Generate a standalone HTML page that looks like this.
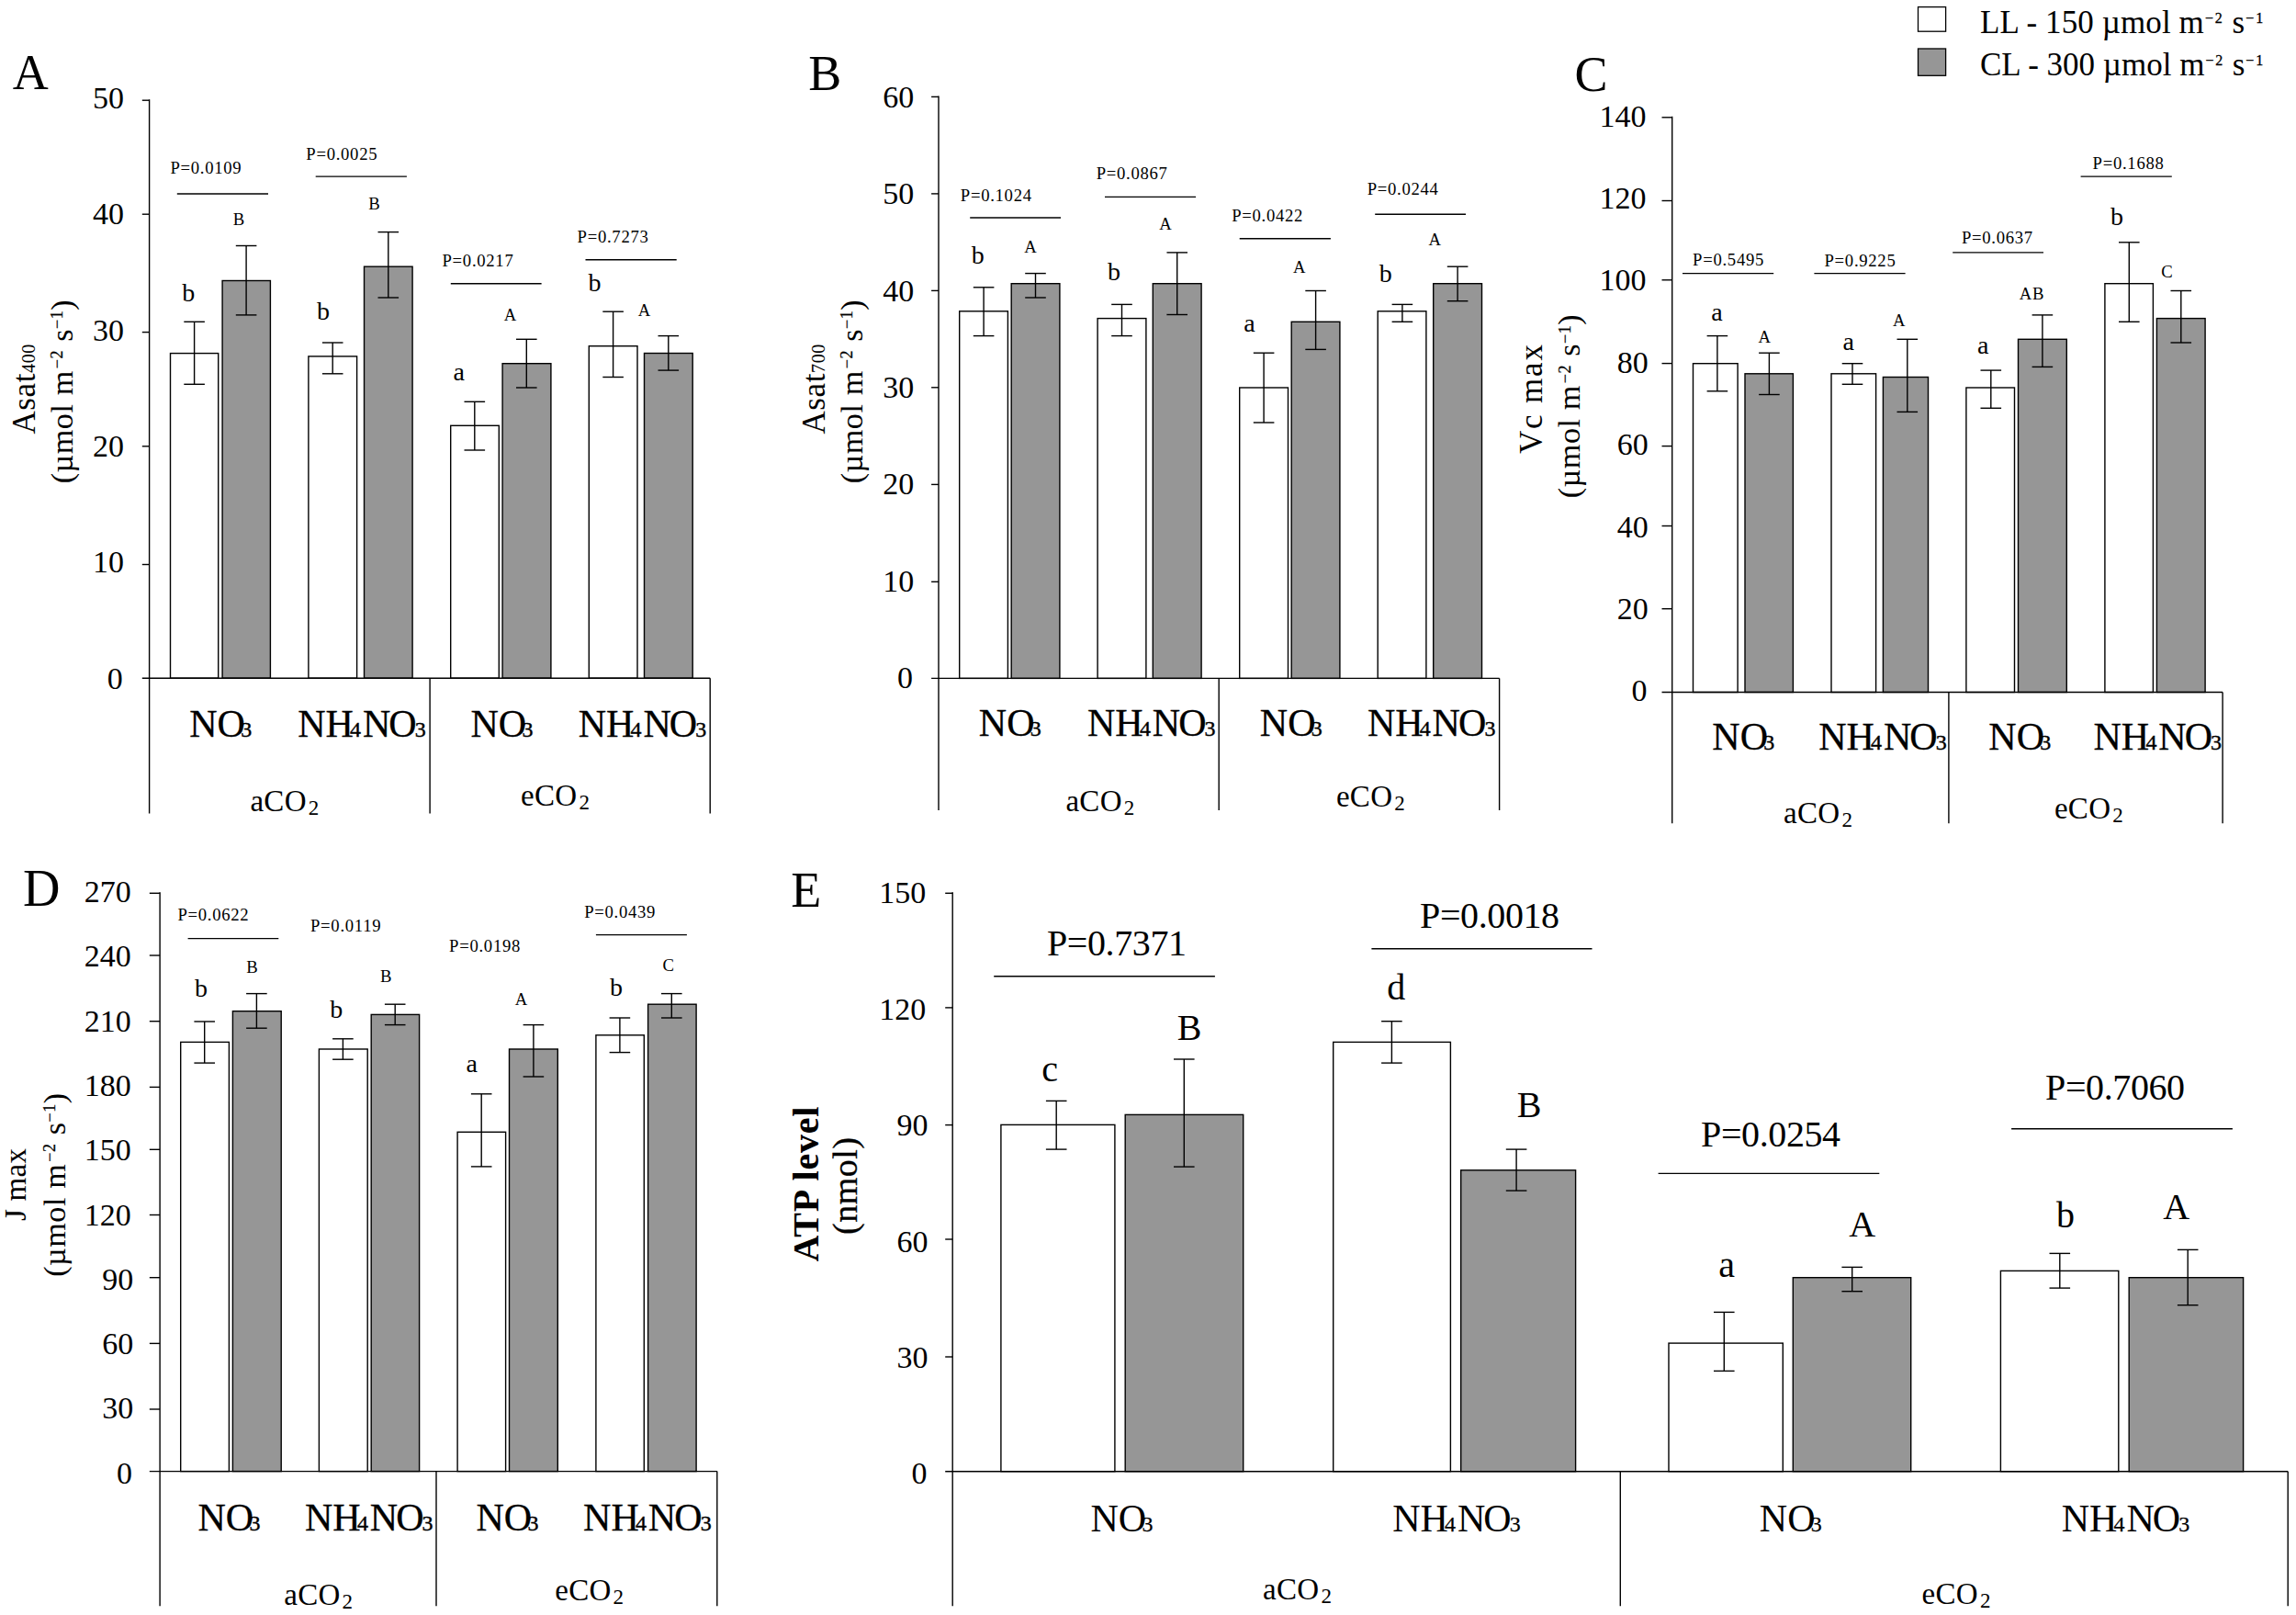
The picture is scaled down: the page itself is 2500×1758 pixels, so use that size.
<!DOCTYPE html>
<html lang="en">
<head>
<meta charset="utf-8">
<title>Figure: gas exchange and ATP level under LL and CL</title>
<style>
html,body{margin:0;padding:0;background:#fff;width:2500px;height:1758px;overflow:hidden;}
svg{display:block;}
text{font-family:"Liberation Serif", "Times New Roman", serif;fill:#000;}
</style>
</head>
<body>
<svg width="2500" height="1758" viewBox="0 0 2500 1758">
<rect x="0" y="0" width="2500" height="1758" fill="#fff"/>
<rect x="185.5" y="384.6" width="52.2" height="353.6" fill="#fff" stroke="#000" stroke-width="1.4"/>
<rect x="242.1" y="305.5" width="52.3" height="432.7" fill="#969696" stroke="#000" stroke-width="1.4"/>
<rect x="335.9" y="387.9" width="52.7" height="350.3" fill="#fff" stroke="#000" stroke-width="1.4"/>
<rect x="396.5" y="290.2" width="52.6" height="448" fill="#969696" stroke="#000" stroke-width="1.4"/>
<rect x="490.7" y="463.3" width="52.6" height="274.9" fill="#fff" stroke="#000" stroke-width="1.4"/>
<rect x="547.1" y="395.7" width="52.8" height="342.5" fill="#969696" stroke="#000" stroke-width="1.4"/>
<rect x="641.3" y="376.7" width="52.7" height="361.5" fill="#fff" stroke="#000" stroke-width="1.4"/>
<rect x="701.5" y="384.5" width="52.7" height="353.7" fill="#969696" stroke="#000" stroke-width="1.4"/>
<line x1="211.6" y1="350.3" x2="211.6" y2="418.3" stroke="#000" stroke-width="1.4"/>
<line x1="200.3" y1="350.3" x2="222.9" y2="350.3" stroke="#000" stroke-width="1.4"/>
<line x1="200.3" y1="418.3" x2="222.9" y2="418.3" stroke="#000" stroke-width="1.4"/>
<line x1="268.1" y1="267.5" x2="268.1" y2="342.9" stroke="#000" stroke-width="1.4"/>
<line x1="256.8" y1="267.5" x2="279.4" y2="267.5" stroke="#000" stroke-width="1.4"/>
<line x1="256.8" y1="342.9" x2="279.4" y2="342.9" stroke="#000" stroke-width="1.4"/>
<line x1="362.2" y1="373" x2="362.2" y2="406.8" stroke="#000" stroke-width="1.4"/>
<line x1="350.9" y1="373" x2="373.5" y2="373" stroke="#000" stroke-width="1.4"/>
<line x1="350.9" y1="406.8" x2="373.5" y2="406.8" stroke="#000" stroke-width="1.4"/>
<line x1="422.8" y1="252.6" x2="422.8" y2="324" stroke="#000" stroke-width="1.4"/>
<line x1="411.5" y1="252.6" x2="434.1" y2="252.6" stroke="#000" stroke-width="1.4"/>
<line x1="411.5" y1="324" x2="434.1" y2="324" stroke="#000" stroke-width="1.4"/>
<line x1="516.8" y1="437.3" x2="516.8" y2="490" stroke="#000" stroke-width="1.4"/>
<line x1="505.5" y1="437.3" x2="528.1" y2="437.3" stroke="#000" stroke-width="1.4"/>
<line x1="505.5" y1="490" x2="528.1" y2="490" stroke="#000" stroke-width="1.4"/>
<line x1="573.3" y1="369.3" x2="573.3" y2="422" stroke="#000" stroke-width="1.4"/>
<line x1="562" y1="369.3" x2="584.6" y2="369.3" stroke="#000" stroke-width="1.4"/>
<line x1="562" y1="422" x2="584.6" y2="422" stroke="#000" stroke-width="1.4"/>
<line x1="667.6" y1="339.2" x2="667.6" y2="410.5" stroke="#000" stroke-width="1.4"/>
<line x1="656.3" y1="339.2" x2="678.9" y2="339.2" stroke="#000" stroke-width="1.4"/>
<line x1="656.3" y1="410.5" x2="678.9" y2="410.5" stroke="#000" stroke-width="1.4"/>
<line x1="727.8" y1="365.6" x2="727.8" y2="403.1" stroke="#000" stroke-width="1.4"/>
<line x1="716.5" y1="365.6" x2="739.1" y2="365.6" stroke="#000" stroke-width="1.4"/>
<line x1="716.5" y1="403.1" x2="739.1" y2="403.1" stroke="#000" stroke-width="1.4"/>
<line x1="162.6" y1="108.2" x2="162.6" y2="885.6" stroke="#000" stroke-width="1.4"/>
<line x1="154.8" y1="738.2" x2="773.2" y2="738.2" stroke="#000" stroke-width="1.4"/>
<line x1="468.1" y1="738.2" x2="468.1" y2="885.6" stroke="#000" stroke-width="1.4"/>
<line x1="773.2" y1="738.2" x2="773.2" y2="885.6" stroke="#000" stroke-width="1.4"/>
<text x="133.8" y="749.9" font-size="34" text-anchor="end">0</text>
<line x1="154.8" y1="614.5" x2="162.6" y2="614.5" stroke="#000" stroke-width="1.4"/>
<text x="135" y="623.4" font-size="34" text-anchor="end">10</text>
<line x1="154.8" y1="485.8" x2="162.6" y2="485.8" stroke="#000" stroke-width="1.4"/>
<text x="135" y="497" font-size="34" text-anchor="end">20</text>
<line x1="154.8" y1="361.6" x2="162.6" y2="361.6" stroke="#000" stroke-width="1.4"/>
<text x="135" y="370.5" font-size="34" text-anchor="end">30</text>
<line x1="154.8" y1="233.2" x2="162.6" y2="233.2" stroke="#000" stroke-width="1.4"/>
<text x="135" y="244.1" font-size="34" text-anchor="end">40</text>
<line x1="154.8" y1="109.2" x2="162.6" y2="109.2" stroke="#000" stroke-width="1.4"/>
<text x="135" y="117.7" font-size="34" text-anchor="end">50</text>
<line x1="192.8" y1="211" x2="292" y2="211" stroke="#000" stroke-width="1.4"/>
<line x1="343.7" y1="192.1" x2="442.9" y2="192.1" stroke="#000" stroke-width="1.4"/>
<line x1="490.8" y1="308.7" x2="589.6" y2="308.7" stroke="#000" stroke-width="1.4"/>
<line x1="637.5" y1="282.7" x2="736.7" y2="282.7" stroke="#000" stroke-width="1.4"/>
<text x="185.4" y="188.7" font-size="18.7" letter-spacing="0.7">P=0.0109</text>
<text x="333.3" y="173.5" font-size="18.7" letter-spacing="0.7">P=0.0025</text>
<text x="481.5" y="290.2" font-size="18.7" letter-spacing="0.7">P=0.0217</text>
<text x="628.6" y="263.8" font-size="18.7" letter-spacing="0.7">P=0.7273</text>
<text x="205.3" y="327.7" font-size="28" text-anchor="middle">b</text>
<text x="259.9" y="244.5" font-size="18.7" text-anchor="middle">B</text>
<text x="352" y="348.1" font-size="28" text-anchor="middle">b</text>
<text x="407.4" y="228.1" font-size="18.7" text-anchor="middle">B</text>
<text x="499.7" y="414.3" font-size="28" text-anchor="middle">a</text>
<text x="555.6" y="348.9" font-size="18.7" text-anchor="middle">A</text>
<text x="647.4" y="316.9" font-size="28" text-anchor="middle">b</text>
<text x="701.6" y="344" font-size="18.7" text-anchor="middle">A</text>
<text x="240.2" y="802" font-size="42" text-anchor="middle" stroke="#000" stroke-width="0.3">NO<tspan font-size="24" stroke="#000" stroke-width="0.4" dx="-4.7">3</tspan></text>
<text x="394" y="802" font-size="42" text-anchor="middle" stroke="#000" stroke-width="0.3">NH<tspan font-size="24" stroke="#000" stroke-width="0.4" dx="-3.8">4</tspan><tspan dx="1.8">N</tspan><tspan dx="-1.9">O</tspan><tspan font-size="24" stroke="#000" stroke-width="0.4" dx="-1.9">3</tspan></text>
<text x="546.5" y="802" font-size="42" text-anchor="middle" stroke="#000" stroke-width="0.3">NO<tspan font-size="24" stroke="#000" stroke-width="0.4" dx="-4.7">3</tspan></text>
<text x="699.5" y="802" font-size="42" text-anchor="middle" stroke="#000" stroke-width="0.3">NH<tspan font-size="24" stroke="#000" stroke-width="0.4" dx="-3.8">4</tspan><tspan dx="1.8">N</tspan><tspan dx="-1.9">O</tspan><tspan font-size="24" stroke="#000" stroke-width="0.4" dx="-1.9">3</tspan></text>
<text x="310" y="882.6" font-size="33" text-anchor="middle" letter-spacing="0.3">aCO<tspan font-size="23" dx="2" dy="4">2</tspan></text>
<text x="604.6" y="877" font-size="33" text-anchor="middle" letter-spacing="0.3">eCO<tspan font-size="23" dx="2" dy="4">2</tspan></text>
<text x="13.8" y="97.2" font-size="54">A</text>
<text x="38.3" y="472.5" font-size="35" letter-spacing="0.6" transform="rotate(-90 38.3 472.5)">Asat<tspan font-size="20" dy="0">400</tspan></text>
<text x="79" y="526.3" font-size="34" transform="rotate(-90 79 526.3)" textLength="200" lengthAdjust="spacing">(µmol m<tspan font-size="18" dy="-10.8" dx="2" stroke="#000" stroke-width="0.25">−2</tspan><tspan dy="10.8"> s</tspan><tspan font-size="18" dy="-10.8" stroke="#000" stroke-width="0.25">−1</tspan><tspan dy="10.8">)</tspan></text>
<rect x="1044.7" y="338.8" width="52.7" height="399.6" fill="#fff" stroke="#000" stroke-width="1.4"/>
<rect x="1101.2" y="308.7" width="52.7" height="429.7" fill="#969696" stroke="#000" stroke-width="1.4"/>
<rect x="1195.1" y="346.6" width="52.8" height="391.8" fill="#fff" stroke="#000" stroke-width="1.4"/>
<rect x="1255.3" y="308.7" width="52.8" height="429.7" fill="#969696" stroke="#000" stroke-width="1.4"/>
<rect x="1349.7" y="422" width="52.8" height="316.4" fill="#fff" stroke="#000" stroke-width="1.4"/>
<rect x="1406.2" y="350.3" width="52.7" height="388.1" fill="#969696" stroke="#000" stroke-width="1.4"/>
<rect x="1500.2" y="338.8" width="52.7" height="399.6" fill="#fff" stroke="#000" stroke-width="1.4"/>
<rect x="1560.7" y="308.7" width="52.8" height="429.7" fill="#969696" stroke="#000" stroke-width="1.4"/>
<line x1="1071.1" y1="312.8" x2="1071.1" y2="365.6" stroke="#000" stroke-width="1.4"/>
<line x1="1059.8" y1="312.8" x2="1082.4" y2="312.8" stroke="#000" stroke-width="1.4"/>
<line x1="1059.8" y1="365.6" x2="1082.4" y2="365.6" stroke="#000" stroke-width="1.4"/>
<line x1="1127.5" y1="297.6" x2="1127.5" y2="324" stroke="#000" stroke-width="1.4"/>
<line x1="1116.2" y1="297.6" x2="1138.8" y2="297.6" stroke="#000" stroke-width="1.4"/>
<line x1="1116.2" y1="324" x2="1138.8" y2="324" stroke="#000" stroke-width="1.4"/>
<line x1="1221.5" y1="331.4" x2="1221.5" y2="365.6" stroke="#000" stroke-width="1.4"/>
<line x1="1210.2" y1="331.4" x2="1232.8" y2="331.4" stroke="#000" stroke-width="1.4"/>
<line x1="1210.2" y1="365.6" x2="1232.8" y2="365.6" stroke="#000" stroke-width="1.4"/>
<line x1="1281.7" y1="274.9" x2="1281.7" y2="342.5" stroke="#000" stroke-width="1.4"/>
<line x1="1270.4" y1="274.9" x2="1293" y2="274.9" stroke="#000" stroke-width="1.4"/>
<line x1="1270.4" y1="342.5" x2="1293" y2="342.5" stroke="#000" stroke-width="1.4"/>
<line x1="1376.1" y1="384.2" x2="1376.1" y2="460" stroke="#000" stroke-width="1.4"/>
<line x1="1364.8" y1="384.2" x2="1387.4" y2="384.2" stroke="#000" stroke-width="1.4"/>
<line x1="1364.8" y1="460" x2="1387.4" y2="460" stroke="#000" stroke-width="1.4"/>
<line x1="1432.6" y1="316.5" x2="1432.6" y2="380.4" stroke="#000" stroke-width="1.4"/>
<line x1="1421.3" y1="316.5" x2="1443.9" y2="316.5" stroke="#000" stroke-width="1.4"/>
<line x1="1421.3" y1="380.4" x2="1443.9" y2="380.4" stroke="#000" stroke-width="1.4"/>
<line x1="1526.9" y1="331.4" x2="1526.9" y2="350.3" stroke="#000" stroke-width="1.4"/>
<line x1="1515.6" y1="331.4" x2="1538.2" y2="331.4" stroke="#000" stroke-width="1.4"/>
<line x1="1515.6" y1="350.3" x2="1538.2" y2="350.3" stroke="#000" stroke-width="1.4"/>
<line x1="1587.1" y1="290.2" x2="1587.1" y2="327.7" stroke="#000" stroke-width="1.4"/>
<line x1="1575.8" y1="290.2" x2="1598.4" y2="290.2" stroke="#000" stroke-width="1.4"/>
<line x1="1575.8" y1="327.7" x2="1598.4" y2="327.7" stroke="#000" stroke-width="1.4"/>
<line x1="1022" y1="104.4" x2="1022" y2="882" stroke="#000" stroke-width="1.4"/>
<line x1="1014.1" y1="738.4" x2="1632.6" y2="738.4" stroke="#000" stroke-width="1.4"/>
<line x1="1327.2" y1="738.4" x2="1327.2" y2="882" stroke="#000" stroke-width="1.4"/>
<line x1="1632.6" y1="738.4" x2="1632.6" y2="882" stroke="#000" stroke-width="1.4"/>
<text x="994.1" y="749.1" font-size="34" text-anchor="end">0</text>
<line x1="1014.1" y1="633.3" x2="1022" y2="633.3" stroke="#000" stroke-width="1.4"/>
<text x="995.3" y="643.7" font-size="34" text-anchor="end">10</text>
<line x1="1014.1" y1="527.4" x2="1022" y2="527.4" stroke="#000" stroke-width="1.4"/>
<text x="995.3" y="538.3" font-size="34" text-anchor="end">20</text>
<line x1="1014.1" y1="421.8" x2="1022" y2="421.8" stroke="#000" stroke-width="1.4"/>
<text x="995.3" y="432.9" font-size="34" text-anchor="end">30</text>
<line x1="1014.1" y1="316.4" x2="1022" y2="316.4" stroke="#000" stroke-width="1.4"/>
<text x="995.3" y="327.5" font-size="34" text-anchor="end">40</text>
<line x1="1014.1" y1="210.9" x2="1022" y2="210.9" stroke="#000" stroke-width="1.4"/>
<text x="995.3" y="222.1" font-size="34" text-anchor="end">50</text>
<line x1="1014.1" y1="105.4" x2="1022" y2="105.4" stroke="#000" stroke-width="1.4"/>
<text x="995.3" y="116.7" font-size="34" text-anchor="end">60</text>
<line x1="1056.2" y1="237" x2="1155" y2="237" stroke="#000" stroke-width="1.4"/>
<line x1="1203" y1="214.4" x2="1302.1" y2="214.4" stroke="#000" stroke-width="1.4"/>
<line x1="1349.7" y1="259.7" x2="1448.9" y2="259.7" stroke="#000" stroke-width="1.4"/>
<line x1="1497.2" y1="233.3" x2="1596" y2="233.3" stroke="#000" stroke-width="1.4"/>
<text x="1045.8" y="219.2" font-size="18.7" letter-spacing="0.7">P=0.1024</text>
<text x="1193.7" y="194.7" font-size="18.7" letter-spacing="0.7">P=0.0867</text>
<text x="1341.2" y="240.7" font-size="18.7" letter-spacing="0.7">P=0.0422</text>
<text x="1488.7" y="212.1" font-size="18.7" letter-spacing="0.7">P=0.0244</text>
<text x="1064.7" y="286.8" font-size="28" text-anchor="middle">b</text>
<text x="1122" y="274.9" font-size="18.7" text-anchor="middle">A</text>
<text x="1213" y="304.7" font-size="28" text-anchor="middle">b</text>
<text x="1269.1" y="250.4" font-size="18.7" text-anchor="middle">A</text>
<text x="1360.5" y="361.1" font-size="28" text-anchor="middle">a</text>
<text x="1414.7" y="296.8" font-size="18.7" text-anchor="middle">A</text>
<text x="1508.7" y="306.5" font-size="28" text-anchor="middle">b</text>
<text x="1562.2" y="266.8" font-size="18.7" text-anchor="middle">A</text>
<text x="1099.8" y="801.3" font-size="42" text-anchor="middle" stroke="#000" stroke-width="0.3">NO<tspan font-size="24" stroke="#000" stroke-width="0.4" dx="-4.7">3</tspan></text>
<text x="1253.8" y="801.3" font-size="42" text-anchor="middle" stroke="#000" stroke-width="0.3">NH<tspan font-size="24" stroke="#000" stroke-width="0.4" dx="-3.8">4</tspan><tspan dx="1.8">N</tspan><tspan dx="-1.9">O</tspan><tspan font-size="24" stroke="#000" stroke-width="0.4" dx="-1.9">3</tspan></text>
<text x="1405.8" y="801.3" font-size="42" text-anchor="middle" stroke="#000" stroke-width="0.3">NO<tspan font-size="24" stroke="#000" stroke-width="0.4" dx="-4.7">3</tspan></text>
<text x="1558.7" y="801.3" font-size="42" text-anchor="middle" stroke="#000" stroke-width="0.3">NH<tspan font-size="24" stroke="#000" stroke-width="0.4" dx="-3.8">4</tspan><tspan dx="1.8">N</tspan><tspan dx="-1.9">O</tspan><tspan font-size="24" stroke="#000" stroke-width="0.4" dx="-1.9">3</tspan></text>
<text x="1198" y="882.6" font-size="33" text-anchor="middle" letter-spacing="0.3">aCO<tspan font-size="23" dx="2" dy="4">2</tspan></text>
<text x="1492.5" y="877.9" font-size="33" text-anchor="middle" letter-spacing="0.3">eCO<tspan font-size="23" dx="2" dy="4">2</tspan></text>
<text x="880.3" y="97.9" font-size="54">B</text>
<text x="898.3" y="472.5" font-size="35" letter-spacing="0.6" transform="rotate(-90 898.3 472.5)">Asat<tspan font-size="20">700</tspan></text>
<text x="939" y="526.3" font-size="34" transform="rotate(-90 939 526.3)" textLength="200" lengthAdjust="spacing">(µmol m<tspan font-size="18" dy="-10.8" dx="2" stroke="#000" stroke-width="0.25">−2</tspan><tspan dy="10.8"> s</tspan><tspan font-size="18" dy="-10.8" stroke="#000" stroke-width="0.25">−1</tspan><tspan dy="10.8">)</tspan></text>
<rect x="1843.5" y="395.7" width="48.6" height="357.8" fill="#fff" stroke="#000" stroke-width="1.4"/>
<rect x="1900" y="406.8" width="52.4" height="346.7" fill="#969696" stroke="#000" stroke-width="1.4"/>
<rect x="1994" y="406.8" width="48.6" height="346.7" fill="#fff" stroke="#000" stroke-width="1.4"/>
<rect x="2050.4" y="410.5" width="49.1" height="343" fill="#969696" stroke="#000" stroke-width="1.4"/>
<rect x="2140.9" y="422" width="52.6" height="331.5" fill="#fff" stroke="#000" stroke-width="1.4"/>
<rect x="2197.5" y="369.3" width="52.8" height="384.2" fill="#969696" stroke="#000" stroke-width="1.4"/>
<rect x="2291.9" y="308.7" width="52.5" height="444.8" fill="#fff" stroke="#000" stroke-width="1.4"/>
<rect x="2348.4" y="346.6" width="52.7" height="406.9" fill="#969696" stroke="#000" stroke-width="1.4"/>
<line x1="1869.9" y1="365.6" x2="1869.9" y2="425.8" stroke="#000" stroke-width="1.4"/>
<line x1="1858.6" y1="365.6" x2="1881.2" y2="365.6" stroke="#000" stroke-width="1.4"/>
<line x1="1858.6" y1="425.8" x2="1881.2" y2="425.8" stroke="#000" stroke-width="1.4"/>
<line x1="1926.4" y1="384.2" x2="1926.4" y2="429.5" stroke="#000" stroke-width="1.4"/>
<line x1="1915.1" y1="384.2" x2="1937.7" y2="384.2" stroke="#000" stroke-width="1.4"/>
<line x1="1915.1" y1="429.5" x2="1937.7" y2="429.5" stroke="#000" stroke-width="1.4"/>
<line x1="2017" y1="395.7" x2="2017" y2="418.3" stroke="#000" stroke-width="1.4"/>
<line x1="2005.7" y1="395.7" x2="2028.3" y2="395.7" stroke="#000" stroke-width="1.4"/>
<line x1="2005.7" y1="418.3" x2="2028.3" y2="418.3" stroke="#000" stroke-width="1.4"/>
<line x1="2076.8" y1="369.3" x2="2076.8" y2="448.4" stroke="#000" stroke-width="1.4"/>
<line x1="2065.5" y1="369.3" x2="2088.1" y2="369.3" stroke="#000" stroke-width="1.4"/>
<line x1="2065.5" y1="448.4" x2="2088.1" y2="448.4" stroke="#000" stroke-width="1.4"/>
<line x1="2167.8" y1="403.1" x2="2167.8" y2="444.3" stroke="#000" stroke-width="1.4"/>
<line x1="2156.5" y1="403.1" x2="2179.1" y2="403.1" stroke="#000" stroke-width="1.4"/>
<line x1="2156.5" y1="444.3" x2="2179.1" y2="444.3" stroke="#000" stroke-width="1.4"/>
<line x1="2223.9" y1="342.9" x2="2223.9" y2="399.4" stroke="#000" stroke-width="1.4"/>
<line x1="2212.6" y1="342.9" x2="2235.2" y2="342.9" stroke="#000" stroke-width="1.4"/>
<line x1="2212.6" y1="399.4" x2="2235.2" y2="399.4" stroke="#000" stroke-width="1.4"/>
<line x1="2318.3" y1="263.8" x2="2318.3" y2="350.3" stroke="#000" stroke-width="1.4"/>
<line x1="2307" y1="263.8" x2="2329.6" y2="263.8" stroke="#000" stroke-width="1.4"/>
<line x1="2307" y1="350.3" x2="2329.6" y2="350.3" stroke="#000" stroke-width="1.4"/>
<line x1="2374.8" y1="316.5" x2="2374.8" y2="373" stroke="#000" stroke-width="1.4"/>
<line x1="2363.5" y1="316.5" x2="2386.1" y2="316.5" stroke="#000" stroke-width="1.4"/>
<line x1="2363.5" y1="373" x2="2386.1" y2="373" stroke="#000" stroke-width="1.4"/>
<line x1="1820.7" y1="126.8" x2="1820.7" y2="896.3" stroke="#000" stroke-width="1.4"/>
<line x1="1809.5" y1="753.5" x2="2420.1" y2="753.5" stroke="#000" stroke-width="1.4"/>
<line x1="2121.9" y1="753.5" x2="2121.9" y2="896.3" stroke="#000" stroke-width="1.4"/>
<line x1="2420.1" y1="753.5" x2="2420.1" y2="896.3" stroke="#000" stroke-width="1.4"/>
<text x="1793.6" y="763.3" font-size="34" text-anchor="end">0</text>
<line x1="1809.5" y1="662.7" x2="1820.7" y2="662.7" stroke="#000" stroke-width="1.4"/>
<text x="1794.8" y="673.9" font-size="34" text-anchor="end">20</text>
<line x1="1809.5" y1="572.5" x2="1820.7" y2="572.5" stroke="#000" stroke-width="1.4"/>
<text x="1794.8" y="584.5" font-size="34" text-anchor="end">40</text>
<line x1="1809.5" y1="485.6" x2="1820.7" y2="485.6" stroke="#000" stroke-width="1.4"/>
<text x="1794.8" y="495.1" font-size="34" text-anchor="end">60</text>
<line x1="1809.5" y1="395.6" x2="1820.7" y2="395.6" stroke="#000" stroke-width="1.4"/>
<text x="1794.8" y="405.7" font-size="34" text-anchor="end">80</text>
<line x1="1809.5" y1="304.8" x2="1820.7" y2="304.8" stroke="#000" stroke-width="1.4"/>
<text x="1792.4" y="316.3" font-size="34" text-anchor="end">100</text>
<line x1="1809.5" y1="218.5" x2="1820.7" y2="218.5" stroke="#000" stroke-width="1.4"/>
<text x="1792.4" y="226.9" font-size="34" text-anchor="end">120</text>
<line x1="1809.5" y1="127.8" x2="1820.7" y2="127.8" stroke="#000" stroke-width="1.4"/>
<text x="1792.4" y="137.5" font-size="34" text-anchor="end">140</text>
<line x1="1832" y1="297.6" x2="1931.2" y2="297.6" stroke="#000" stroke-width="1.4"/>
<line x1="1975.4" y1="297.6" x2="2074.6" y2="297.6" stroke="#000" stroke-width="1.4"/>
<line x1="2126.2" y1="274.9" x2="2225" y2="274.9" stroke="#000" stroke-width="1.4"/>
<line x1="2265.6" y1="192.1" x2="2364.8" y2="192.1" stroke="#000" stroke-width="1.4"/>
<text x="1843.1" y="289" font-size="18.7" letter-spacing="0.7">P=0.5495</text>
<text x="1986.5" y="290.2" font-size="18.7" letter-spacing="0.7">P=0.9225</text>
<text x="2135.9" y="265.3" font-size="18.7" letter-spacing="0.7">P=0.0637</text>
<text x="2278.6" y="183.9" font-size="18.7" letter-spacing="0.7">P=0.1688</text>
<text x="1869.5" y="348.5" font-size="28" text-anchor="middle">a</text>
<text x="1921.2" y="372.6" font-size="18.7" text-anchor="middle">A</text>
<text x="2012.8" y="381.2" font-size="28" text-anchor="middle">a</text>
<text x="2067.7" y="354.8" font-size="18.7" text-anchor="middle">A</text>
<text x="2159.2" y="384.5" font-size="28" text-anchor="middle">a</text>
<text x="2212.6" y="326.2" font-size="18.7" text-anchor="middle" letter-spacing="0.8">AB</text>
<text x="2305.1" y="244.5" font-size="28" text-anchor="middle">b</text>
<text x="2359.6" y="302" font-size="18.7" text-anchor="middle">C</text>
<text x="1898.3" y="815.7" font-size="42" text-anchor="middle" stroke="#000" stroke-width="0.3">NO<tspan font-size="24" stroke="#000" stroke-width="0.4" dx="-4.7">3</tspan></text>
<text x="2050" y="815.7" font-size="42" text-anchor="middle" stroke="#000" stroke-width="0.3">NH<tspan font-size="24" stroke="#000" stroke-width="0.4" dx="-3.8">4</tspan><tspan dx="1.8">N</tspan><tspan dx="-1.9">O</tspan><tspan font-size="24" stroke="#000" stroke-width="0.4" dx="-1.9">3</tspan></text>
<text x="2199.3" y="815.7" font-size="42" text-anchor="middle" stroke="#000" stroke-width="0.3">NO<tspan font-size="24" stroke="#000" stroke-width="0.4" dx="-4.7">3</tspan></text>
<text x="2349.3" y="815.7" font-size="42" text-anchor="middle" stroke="#000" stroke-width="0.3">NH<tspan font-size="24" stroke="#000" stroke-width="0.4" dx="-3.8">4</tspan><tspan dx="1.8">N</tspan><tspan dx="-1.9">O</tspan><tspan font-size="24" stroke="#000" stroke-width="0.4" dx="-1.9">3</tspan></text>
<text x="1979.6" y="896" font-size="33" text-anchor="middle" letter-spacing="0.3">aCO<tspan font-size="23" dx="2" dy="4">2</tspan></text>
<text x="2274.5" y="890.5" font-size="33" text-anchor="middle" letter-spacing="0.3">eCO<tspan font-size="23" dx="2" dy="4">2</tspan></text>
<text x="1714.5" y="98.7" font-size="54">C</text>
<text x="1678.5" y="494" font-size="35" transform="rotate(-90 1678.5 494)" textLength="119" lengthAdjust="spacing">Vc max</text>
<text x="1720.3" y="542.3" font-size="34" transform="rotate(-90 1720.3 542.3)" textLength="200" lengthAdjust="spacing">(µmol m<tspan font-size="18" dy="-10.8" dx="2" stroke="#000" stroke-width="0.25">−2</tspan><tspan dy="10.8"> s</tspan><tspan font-size="18" dy="-10.8" stroke="#000" stroke-width="0.25">−1</tspan><tspan dy="10.8">)</tspan></text>
<rect x="2088.5" y="7.6" width="30.1" height="26.6" fill="#fff" stroke="#000" stroke-width="1.3"/>
<rect x="2088.5" y="53" width="30.1" height="29.3" fill="#969696" stroke="#000" stroke-width="1.3"/>
<text x="2156" y="35.7" font-size="35" textLength="310" lengthAdjust="spacing">LL - 150 µmol m<tspan font-size="16" stroke="#000" stroke-width="0.3" letter-spacing="1.8" dy="-10.3" dx="1">−2</tspan><tspan dy="10.3"> s</tspan><tspan font-size="16" stroke="#000" stroke-width="0.3" letter-spacing="1.8" dy="-10.3" dx="1">−1</tspan></text>
<text x="2156" y="81.7" font-size="35" textLength="310" lengthAdjust="spacing">CL - 300 µmol m<tspan font-size="16" stroke="#000" stroke-width="0.3" letter-spacing="1.8" dy="-10.3" dx="1">−2</tspan><tspan dy="10.3"> s</tspan><tspan font-size="16" stroke="#000" stroke-width="0.3" letter-spacing="1.8" dy="-10.3" dx="1">−1</tspan></text>
<rect x="196.7" y="1134.4" width="52.7" height="467.2" fill="#fff" stroke="#000" stroke-width="1.4"/>
<rect x="253.4" y="1100.7" width="52.8" height="500.9" fill="#969696" stroke="#000" stroke-width="1.4"/>
<rect x="347.4" y="1142" width="52.8" height="459.6" fill="#fff" stroke="#000" stroke-width="1.4"/>
<rect x="404.2" y="1104.4" width="52.4" height="497.2" fill="#969696" stroke="#000" stroke-width="1.4"/>
<rect x="498.1" y="1232.3" width="52.5" height="369.3" fill="#fff" stroke="#000" stroke-width="1.4"/>
<rect x="554.5" y="1142" width="52.8" height="459.6" fill="#969696" stroke="#000" stroke-width="1.4"/>
<rect x="648.9" y="1126.8" width="52.4" height="474.8" fill="#fff" stroke="#000" stroke-width="1.4"/>
<rect x="705.6" y="1093.2" width="52.5" height="508.4" fill="#969696" stroke="#000" stroke-width="1.4"/>
<line x1="222.7" y1="1112" x2="222.7" y2="1157.1" stroke="#000" stroke-width="1.4"/>
<line x1="211.4" y1="1112" x2="234" y2="1112" stroke="#000" stroke-width="1.4"/>
<line x1="211.4" y1="1157.1" x2="234" y2="1157.1" stroke="#000" stroke-width="1.4"/>
<line x1="279.4" y1="1081.6" x2="279.4" y2="1119.2" stroke="#000" stroke-width="1.4"/>
<line x1="268.1" y1="1081.6" x2="290.7" y2="1081.6" stroke="#000" stroke-width="1.4"/>
<line x1="268.1" y1="1119.2" x2="290.7" y2="1119.2" stroke="#000" stroke-width="1.4"/>
<line x1="373.4" y1="1130.8" x2="373.4" y2="1153.2" stroke="#000" stroke-width="1.4"/>
<line x1="362.1" y1="1130.8" x2="384.7" y2="1130.8" stroke="#000" stroke-width="1.4"/>
<line x1="362.1" y1="1153.2" x2="384.7" y2="1153.2" stroke="#000" stroke-width="1.4"/>
<line x1="430.2" y1="1093.2" x2="430.2" y2="1115.6" stroke="#000" stroke-width="1.4"/>
<line x1="418.9" y1="1093.2" x2="441.5" y2="1093.2" stroke="#000" stroke-width="1.4"/>
<line x1="418.9" y1="1115.6" x2="441.5" y2="1115.6" stroke="#000" stroke-width="1.4"/>
<line x1="524.2" y1="1190.8" x2="524.2" y2="1269.9" stroke="#000" stroke-width="1.4"/>
<line x1="512.9" y1="1190.8" x2="535.5" y2="1190.8" stroke="#000" stroke-width="1.4"/>
<line x1="512.9" y1="1269.9" x2="535.5" y2="1269.9" stroke="#000" stroke-width="1.4"/>
<line x1="580.9" y1="1115.6" x2="580.9" y2="1172" stroke="#000" stroke-width="1.4"/>
<line x1="569.6" y1="1115.6" x2="592.2" y2="1115.6" stroke="#000" stroke-width="1.4"/>
<line x1="569.6" y1="1172" x2="592.2" y2="1172" stroke="#000" stroke-width="1.4"/>
<line x1="674.9" y1="1108" x2="674.9" y2="1145.6" stroke="#000" stroke-width="1.4"/>
<line x1="663.6" y1="1108" x2="686.2" y2="1108" stroke="#000" stroke-width="1.4"/>
<line x1="663.6" y1="1145.6" x2="686.2" y2="1145.6" stroke="#000" stroke-width="1.4"/>
<line x1="731.3" y1="1081.6" x2="731.3" y2="1108" stroke="#000" stroke-width="1.4"/>
<line x1="720" y1="1081.6" x2="742.6" y2="1081.6" stroke="#000" stroke-width="1.4"/>
<line x1="720" y1="1108" x2="742.6" y2="1108" stroke="#000" stroke-width="1.4"/>
<line x1="174.1" y1="971.3" x2="174.1" y2="1748.3" stroke="#000" stroke-width="1.4"/>
<line x1="162.8" y1="1601.6" x2="780.8" y2="1601.6" stroke="#000" stroke-width="1.4"/>
<line x1="475" y1="1601.6" x2="475" y2="1748.3" stroke="#000" stroke-width="1.4"/>
<line x1="780.8" y1="1601.6" x2="780.8" y2="1748.3" stroke="#000" stroke-width="1.4"/>
<text x="144" y="1614.6" font-size="34" text-anchor="end">0</text>
<line x1="162.8" y1="1534" x2="174.1" y2="1534" stroke="#000" stroke-width="1.4"/>
<text x="145.2" y="1544.3" font-size="34" text-anchor="end">30</text>
<line x1="162.8" y1="1462.4" x2="174.1" y2="1462.4" stroke="#000" stroke-width="1.4"/>
<text x="145.2" y="1474" font-size="34" text-anchor="end">60</text>
<line x1="162.8" y1="1390.7" x2="174.1" y2="1390.7" stroke="#000" stroke-width="1.4"/>
<text x="145.2" y="1403.8" font-size="34" text-anchor="end">90</text>
<line x1="162.8" y1="1322.5" x2="174.1" y2="1322.5" stroke="#000" stroke-width="1.4"/>
<text x="142.8" y="1333.5" font-size="34" text-anchor="end">120</text>
<line x1="162.8" y1="1251.3" x2="174.1" y2="1251.3" stroke="#000" stroke-width="1.4"/>
<text x="142.8" y="1263.2" font-size="34" text-anchor="end">150</text>
<line x1="162.8" y1="1183.4" x2="174.1" y2="1183.4" stroke="#000" stroke-width="1.4"/>
<text x="142.8" y="1192.9" font-size="34" text-anchor="end">180</text>
<line x1="162.8" y1="1111.7" x2="174.1" y2="1111.7" stroke="#000" stroke-width="1.4"/>
<text x="142.8" y="1122.6" font-size="34" text-anchor="end">210</text>
<line x1="162.8" y1="1040" x2="174.1" y2="1040" stroke="#000" stroke-width="1.4"/>
<text x="142.8" y="1052.4" font-size="34" text-anchor="end">240</text>
<line x1="162.8" y1="972.3" x2="174.1" y2="972.3" stroke="#000" stroke-width="1.4"/>
<text x="142.8" y="982.1" font-size="34" text-anchor="end">270</text>
<line x1="204.6" y1="1021.6" x2="303.3" y2="1021.6" stroke="#000" stroke-width="1.4"/>
<line x1="648.9" y1="1017.6" x2="747.9" y2="1017.6" stroke="#000" stroke-width="1.4"/>
<text x="193.4" y="1002.4" font-size="18.7" letter-spacing="0.7">P=0.0622</text>
<text x="338" y="1014.4" font-size="18.7" letter-spacing="0.7">P=0.0119</text>
<text x="489.1" y="1036" font-size="18.7" letter-spacing="0.7">P=0.0198</text>
<text x="636.2" y="998.8" font-size="18.7" letter-spacing="0.7">P=0.0439</text>
<text x="219" y="1085.2" font-size="28" text-anchor="middle">b</text>
<text x="274.4" y="1058.8" font-size="18.7" text-anchor="middle">B</text>
<text x="366.2" y="1108" font-size="28" text-anchor="middle">b</text>
<text x="420.2" y="1068.6" font-size="18.7" text-anchor="middle">B</text>
<text x="513.7" y="1166.5" font-size="28" text-anchor="middle">a</text>
<text x="567.5" y="1093.5" font-size="18.7" text-anchor="middle">A</text>
<text x="670.9" y="1083.8" font-size="28" text-anchor="middle">b</text>
<text x="727.8" y="1057" font-size="18.7" text-anchor="middle">C</text>
<text x="249.4" y="1666.2" font-size="42" text-anchor="middle" stroke="#000" stroke-width="0.3">NO<tspan font-size="24" stroke="#000" stroke-width="0.4" dx="-4.7">3</tspan></text>
<text x="401.8" y="1666.2" font-size="42" text-anchor="middle" stroke="#000" stroke-width="0.3">NH<tspan font-size="24" stroke="#000" stroke-width="0.4" dx="-3.8">4</tspan><tspan dx="1.8">N</tspan><tspan dx="-1.9">O</tspan><tspan font-size="24" stroke="#000" stroke-width="0.4" dx="-1.9">3</tspan></text>
<text x="552.5" y="1666.2" font-size="42" text-anchor="middle" stroke="#000" stroke-width="0.3">NO<tspan font-size="24" stroke="#000" stroke-width="0.4" dx="-4.7">3</tspan></text>
<text x="704.9" y="1666.2" font-size="42" text-anchor="middle" stroke="#000" stroke-width="0.3">NH<tspan font-size="24" stroke="#000" stroke-width="0.4" dx="-3.8">4</tspan><tspan dx="1.8">N</tspan><tspan dx="-1.9">O</tspan><tspan font-size="24" stroke="#000" stroke-width="0.4" dx="-1.9">3</tspan></text>
<text x="346.8" y="1747.2" font-size="33" text-anchor="middle" letter-spacing="0.3">aCO<tspan font-size="23" dx="2" dy="4">2</tspan></text>
<text x="641.8" y="1741.7" font-size="33" text-anchor="middle" letter-spacing="0.3">eCO<tspan font-size="23" dx="2" dy="4">2</tspan></text>
<text x="25" y="986.3" font-size="56">D</text>
<text x="28.3" y="1329" font-size="33" transform="rotate(-90 28.3 1329)" textLength="79" lengthAdjust="spacing">J max</text>
<text x="71" y="1389.8" font-size="34" transform="rotate(-90 71 1389.8)" textLength="200" lengthAdjust="spacing">(µmol m<tspan font-size="18" dy="-10.8" dx="2" stroke="#000" stroke-width="0.25">−2</tspan><tspan dy="10.8"> s</tspan><tspan font-size="18" dy="-10.8" stroke="#000" stroke-width="0.25">−1</tspan><tspan dy="10.8">)</tspan></text>
<rect x="1089.9" y="1224.4" width="124" height="377.3" fill="#fff" stroke="#000" stroke-width="1.4"/>
<rect x="1225.2" y="1213.4" width="128.5" height="388.3" fill="#969696" stroke="#000" stroke-width="1.4"/>
<rect x="1451.7" y="1134.4" width="127.7" height="467.3" fill="#fff" stroke="#000" stroke-width="1.4"/>
<rect x="1590.7" y="1273.8" width="124.9" height="327.9" fill="#969696" stroke="#000" stroke-width="1.4"/>
<rect x="1817" y="1462.1" width="124.3" height="139.6" fill="#fff" stroke="#000" stroke-width="1.4"/>
<rect x="1952.3" y="1390.7" width="128.4" height="211" fill="#969696" stroke="#000" stroke-width="1.4"/>
<rect x="2178.4" y="1383.4" width="128.4" height="218.3" fill="#fff" stroke="#000" stroke-width="1.4"/>
<rect x="2318.2" y="1390.7" width="124.4" height="211" fill="#969696" stroke="#000" stroke-width="1.4"/>
<line x1="1150.2" y1="1198.4" x2="1150.2" y2="1251.1" stroke="#000" stroke-width="1.4"/>
<line x1="1138.9" y1="1198.4" x2="1161.5" y2="1198.4" stroke="#000" stroke-width="1.4"/>
<line x1="1138.9" y1="1251.1" x2="1161.5" y2="1251.1" stroke="#000" stroke-width="1.4"/>
<line x1="1289.3" y1="1153" x2="1289.3" y2="1270.1" stroke="#000" stroke-width="1.4"/>
<line x1="1278" y1="1153" x2="1300.6" y2="1153" stroke="#000" stroke-width="1.4"/>
<line x1="1278" y1="1270.1" x2="1300.6" y2="1270.1" stroke="#000" stroke-width="1.4"/>
<line x1="1515.4" y1="1111.7" x2="1515.4" y2="1157.1" stroke="#000" stroke-width="1.4"/>
<line x1="1504.1" y1="1111.7" x2="1526.7" y2="1111.7" stroke="#000" stroke-width="1.4"/>
<line x1="1504.1" y1="1157.1" x2="1526.7" y2="1157.1" stroke="#000" stroke-width="1.4"/>
<line x1="1651.1" y1="1251.1" x2="1651.1" y2="1296.1" stroke="#000" stroke-width="1.4"/>
<line x1="1639.8" y1="1251.1" x2="1662.4" y2="1251.1" stroke="#000" stroke-width="1.4"/>
<line x1="1639.8" y1="1296.1" x2="1662.4" y2="1296.1" stroke="#000" stroke-width="1.4"/>
<line x1="1877.3" y1="1428.4" x2="1877.3" y2="1492.4" stroke="#000" stroke-width="1.4"/>
<line x1="1866" y1="1428.4" x2="1888.6" y2="1428.4" stroke="#000" stroke-width="1.4"/>
<line x1="1866" y1="1492.4" x2="1888.6" y2="1492.4" stroke="#000" stroke-width="1.4"/>
<line x1="2016.7" y1="1379.4" x2="2016.7" y2="1405.7" stroke="#000" stroke-width="1.4"/>
<line x1="2005.4" y1="1379.4" x2="2028" y2="1379.4" stroke="#000" stroke-width="1.4"/>
<line x1="2005.4" y1="1405.7" x2="2028" y2="1405.7" stroke="#000" stroke-width="1.4"/>
<line x1="2242.8" y1="1364.4" x2="2242.8" y2="1402.1" stroke="#000" stroke-width="1.4"/>
<line x1="2231.5" y1="1364.4" x2="2254.1" y2="1364.4" stroke="#000" stroke-width="1.4"/>
<line x1="2231.5" y1="1402.1" x2="2254.1" y2="1402.1" stroke="#000" stroke-width="1.4"/>
<line x1="2382.2" y1="1360.4" x2="2382.2" y2="1420.7" stroke="#000" stroke-width="1.4"/>
<line x1="2370.9" y1="1360.4" x2="2393.5" y2="1360.4" stroke="#000" stroke-width="1.4"/>
<line x1="2370.9" y1="1420.7" x2="2393.5" y2="1420.7" stroke="#000" stroke-width="1.4"/>
<line x1="1037.2" y1="971.3" x2="1037.2" y2="1748.2" stroke="#000" stroke-width="1.4"/>
<line x1="1029.2" y1="1601.7" x2="2491.2" y2="1601.7" stroke="#000" stroke-width="1.4"/>
<line x1="1764.3" y1="1601.7" x2="1764.3" y2="1748.2" stroke="#000" stroke-width="1.4"/>
<line x1="2491.2" y1="1601.7" x2="2491.2" y2="1748.2" stroke="#000" stroke-width="1.4"/>
<text x="1009.4" y="1615.4" font-size="34" text-anchor="end">0</text>
<line x1="1029.2" y1="1477" x2="1037.2" y2="1477" stroke="#000" stroke-width="1.4"/>
<text x="1010.6" y="1489" font-size="34" text-anchor="end">30</text>
<line x1="1029.2" y1="1349" x2="1037.2" y2="1349" stroke="#000" stroke-width="1.4"/>
<text x="1010.6" y="1362.6" font-size="34" text-anchor="end">60</text>
<line x1="1029.2" y1="1224.6" x2="1037.2" y2="1224.6" stroke="#000" stroke-width="1.4"/>
<text x="1010.6" y="1236.2" font-size="34" text-anchor="end">90</text>
<line x1="1029.2" y1="1096.9" x2="1037.2" y2="1096.9" stroke="#000" stroke-width="1.4"/>
<text x="1008.2" y="1109.8" font-size="34" text-anchor="end">120</text>
<line x1="1029.2" y1="972.3" x2="1037.2" y2="972.3" stroke="#000" stroke-width="1.4"/>
<text x="1008.2" y="983.4" font-size="34" text-anchor="end">150</text>
<line x1="1082.2" y1="1062.7" x2="1322.9" y2="1062.7" stroke="#000" stroke-width="1.4"/>
<line x1="1493.4" y1="1032.7" x2="1733.5" y2="1032.7" stroke="#000" stroke-width="1.4"/>
<line x1="1805.6" y1="1277.4" x2="2046.3" y2="1277.4" stroke="#000" stroke-width="1.4"/>
<line x1="2190.1" y1="1228.8" x2="2430.9" y2="1228.8" stroke="#000" stroke-width="1.4"/>
<text x="1140" y="1040" font-size="40" letter-spacing="-0.4">P=0.7371</text>
<text x="1546.1" y="1009.6" font-size="40" letter-spacing="-0.4">P=0.0018</text>
<text x="1852.1" y="1248.2" font-size="40" letter-spacing="-0.4">P=0.0254</text>
<text x="2227.1" y="1197" font-size="40" letter-spacing="-0.4">P=0.7060</text>
<text x="1143.1" y="1177.2" font-size="40" text-anchor="middle">c</text>
<text x="1295.1" y="1132.2" font-size="40" text-anchor="middle">B</text>
<text x="1520.3" y="1088.3" font-size="40" text-anchor="middle">d</text>
<text x="1665.2" y="1216.4" font-size="40" text-anchor="middle">B</text>
<text x="1880.1" y="1390.1" font-size="40" text-anchor="middle">a</text>
<text x="2027.7" y="1346.2" font-size="40" text-anchor="middle">A</text>
<text x="2249" y="1336.3" font-size="40" text-anchor="middle">b</text>
<text x="2369.6" y="1327.2" font-size="40" text-anchor="middle">A</text>
<text x="1221.5" y="1667" font-size="42" text-anchor="middle" stroke="#000" stroke-width="0.05">NO<tspan font-size="24" stroke="#000" stroke-width="0.25" dx="-4.7">3</tspan></text>
<text x="1586" y="1667" font-size="42" text-anchor="middle" stroke="#000" stroke-width="0.05">NH<tspan font-size="24" stroke="#000" stroke-width="0.25" dx="-3.8">4</tspan><tspan dx="1.8">N</tspan><tspan dx="-1.9">O</tspan><tspan font-size="24" stroke="#000" stroke-width="0.25" dx="-1.9">3</tspan></text>
<text x="1949.8" y="1667" font-size="42" text-anchor="middle" stroke="#000" stroke-width="0.05">NO<tspan font-size="24" stroke="#000" stroke-width="0.25" dx="-4.7">3</tspan></text>
<text x="2314.5" y="1667" font-size="42" text-anchor="middle" stroke="#000" stroke-width="0.05">NH<tspan font-size="24" stroke="#000" stroke-width="0.25" dx="-3.8">4</tspan><tspan dx="1.8">N</tspan><tspan dx="-1.9">O</tspan><tspan font-size="24" stroke="#000" stroke-width="0.25" dx="-1.9">3</tspan></text>
<text x="1412.6" y="1740.9" font-size="33" text-anchor="middle" letter-spacing="0.3">aCO<tspan font-size="23" dx="2" dy="4">2</tspan></text>
<text x="2130.1" y="1745.6" font-size="33" text-anchor="middle" letter-spacing="0.3">eCO<tspan font-size="23" dx="2" dy="4">2</tspan></text>
<text x="861.2" y="986.8" font-size="54">E</text>
<text x="891.2" y="1373.5" font-size="40" font-weight="bold" transform="rotate(-90 891.2 1373.5)" textLength="169" lengthAdjust="spacing">ATP level</text>
<text x="932.7" y="1344" font-size="38" transform="rotate(-90 932.7 1344)" textLength="106" lengthAdjust="spacing" stroke="#000" stroke-width="0.3">(nmol)</text>
</svg>
</body>
</html>
